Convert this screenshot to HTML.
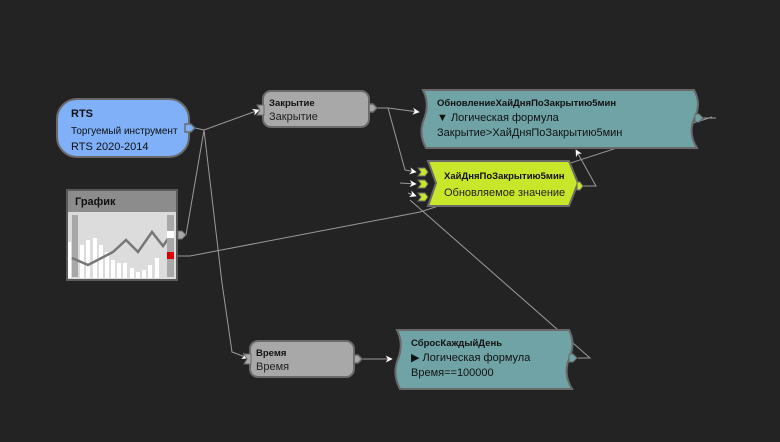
<!DOCTYPE html>
<html><head><meta charset="utf-8"><style>
html,body{margin:0;padding:0;background:#232323;}
svg{display:block;font-family:"Liberation Sans","DejaVu Sans",sans-serif;}
</style></head><body>
<svg width="780" height="442" viewBox="0 0 780 442" xmlns="http://www.w3.org/2000/svg">
<defs>
<marker id="a" viewBox="0 0 10 10" refX="9" refY="5" markerWidth="7" markerHeight="7" orient="auto"><path d="M0,0 L10,5 L0,10 L3,5 z" fill="#fff"/></marker>
</defs>
<rect width="780" height="442" fill="#232323"/>
<!-- connectors -->
<g stroke="#9a9a9a" stroke-width="1" fill="none">
<path d="M195,128 L204,130 L259,110" marker-end="url(#a)"/>
<path d="M204,130 L186,235"/>
<path d="M204,130 L222,283 L232,352 L248,358" marker-end="url(#a)"/>
<path d="M378,108 L388,108 L419,112" marker-end="url(#a)"/>
<path d="M388,108 L405,170 L416,172" marker-end="url(#a)"/>
<path d="M400,183 L416,184" marker-end="url(#a)"/>
<path d="M408,193 L416,196" marker-end="url(#a)"/>
<path d="M410,200 L590,358 L578,358"/>
<path d="M178,256 L190,256 L420,212 L712,117"/>
<path d="M700,118 L716,118"/>
<path d="M582,186 L596,186 L576,150" marker-end="url(#a)"/>
<path d="M358,359 L392,359" marker-end="url(#a)"/>
</g>
<!-- RTS -->
<rect x="57" y="99" width="132" height="58" rx="20" fill="#7fb0f8" stroke="#6a6a6a" stroke-width="2"/>
<path d="M185,124 h6 l4,4 l-4,4 h-6 z" fill="#7fb0f8" stroke="#6a6a6a" stroke-width="1.5"/>
<text x="71" y="117" font-size="11" font-weight="bold" fill="#111">RTS</text>
<text x="71" y="134" font-size="10" fill="#111">Торгуемый инструмент</text>
<text x="71" y="150" font-size="11" fill="#111">RTS 2020-2014</text>
<!-- График -->
<rect x="66" y="189" width="112" height="92" fill="#5a5a5a"/>
<rect x="68" y="191" width="108" height="21" fill="#8c8c8c"/>
<rect x="68" y="212" width="108" height="67" fill="#dcdcdc"/>
<text x="75" y="205" font-size="11" font-weight="bold" fill="#111">График</text>
<rect x="72" y="215" width="6" height="62" fill="#a8a8a8"/>
<g fill="#fff">
<rect x="68" y="242" width="3" height="36"/><rect x="80" y="245" width="4" height="33"/><rect x="86" y="240" width="4" height="38"/><rect x="93" y="238" width="4" height="40"/><rect x="99" y="245" width="4" height="33"/><rect x="105" y="252" width="4" height="26"/><rect x="111" y="260" width="4" height="18"/><rect x="117" y="263" width="4" height="15"/><rect x="123" y="263" width="4" height="15"/><rect x="130" y="268" width="4" height="10"/><rect x="136" y="272" width="4" height="6"/><rect x="142" y="270" width="4" height="8"/><rect x="148" y="265" width="4" height="13"/><rect x="155" y="258" width="4" height="20"/>
</g>
<polyline points="72,258 88,265 113,252 126,240 138,252 152,232 163,246 170,236" fill="none" stroke="#777" stroke-width="2.5"/>
<rect x="167" y="215" width="7" height="62" fill="#a8a8a8"/>
<rect x="167" y="231" width="7" height="7" fill="#fff"/>
<rect x="167" y="252" width="7" height="7" fill="#d00"/>
<path d="M178,231 h4 l4,4 l-4,4 h-4 z" fill="#a8a8a8" stroke="#6a6a6a"/>
<!-- Закрытие -->
<rect x="263" y="91" width="106" height="36" rx="8" fill="#a8a8a8" stroke="#6a6a6a" stroke-width="2"/>
<path d="M257,105 h7 v10 h-7 l3,-5 z" fill="#a8a8a8" stroke="#6a6a6a"/>
<path d="M369,104 h4 l4,4 l-4,4 h-4 z" fill="#a8a8a8" stroke="#6a6a6a" stroke-width="1.5"/>
<text x="269" y="106" font-size="9.5" font-weight="bold" fill="#111">Закрытие</text>
<text x="269" y="120" font-size="11" fill="#222">Закрытие</text>
<!-- Обновление -->
<path d="M423,90 H694 Q702,104 694,119 Q688,134 697,148 H426 Q418,134 424,119 Q430,104 423,90 z" fill="#6fa3a6" stroke="#6a6a6a" stroke-width="2"/>
<path d="M695,114 h4 l4,4 l-4,4 h-4 z" fill="#6fa3a6" stroke="#6a6a6a"/>
<text x="437" y="106" font-size="9.5" font-weight="bold" fill="#111">ОбновлениеХайДняПоЗакрытию5мин</text>
<text x="437" y="121" font-size="11" fill="#111">▼ Логическая формула</text>
<text x="437" y="136" font-size="11" fill="#111">Закрытие&gt;ХайДняПоЗакрытию5мин</text>
<!-- ХайДня -->
<path d="M428,161 H569 L578,183 L569,206 H428 L436,183 z" fill="#c8e62a" stroke="#6a6a6a" stroke-width="2"/>
<g fill="#c8e62a" stroke="#6a6a6a">
<path d="M418,168 h7 l3,4 l-3,4 h-7 l3,-4 z"/><path d="M418,180 h7 l3,4 l-3,4 h-7 l3,-4 z"/><path d="M418,193 h7 l3,4 l-3,4 h-7 l3,-4 z"/>
<path d="M577,182 h3 l3,4 l-3,4 h-3 z"/>
</g>
<text x="444" y="179" font-size="9.5" font-weight="bold" fill="#111">ХайДняПоЗакрытию5мин</text>
<text x="444" y="196" font-size="11" fill="#222">Обновляемое значение</text>
<!-- Время -->
<rect x="250" y="341" width="104" height="36" rx="8" fill="#a8a8a8" stroke="#6a6a6a" stroke-width="2"/>
<path d="M244,354 h7 v10 h-7 l3,-5 z" fill="#a8a8a8" stroke="#6a6a6a"/>
<path d="M354,355 h4 l4,4 l-4,4 h-4 z" fill="#a8a8a8" stroke="#6a6a6a" stroke-width="1.5"/>
<text x="256" y="356" font-size="9.5" font-weight="bold" fill="#111">Время</text>
<text x="256" y="370" font-size="11" fill="#222">Время</text>
<!-- Сброс -->
<path d="M397,330 H569 Q576,344 569,359 Q563,374 572,389 H400 Q392,374 398,359 Q404,344 397,330 z" fill="#6fa3a6" stroke="#6a6a6a" stroke-width="2"/>
<path d="M569,354 h4 l4,4 l-4,4 h-4 z" fill="#6fa3a6" stroke="#6a6a6a"/>
<text x="411" y="346" font-size="9.5" font-weight="bold" fill="#111">СбросКаждыйДень</text>
<text x="411" y="361" font-size="11" fill="#111">▶ Логическая формула</text>
<text x="411" y="376" font-size="11" fill="#111">Время==100000</text>
</svg>
</body></html>
